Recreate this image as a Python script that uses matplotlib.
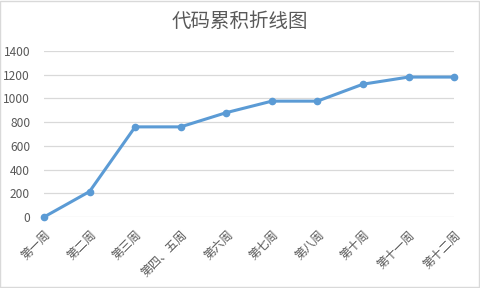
import matplotlib
matplotlib.use("Agg")
from matplotlib import pyplot as plt
from matplotlib.patches import Rectangle

plt.rcParams['font.family'] = ['Noto Sans CJK SC', 'DejaVu Sans']

weeks = ['第一周', '第二周', '第三周', '第四、五周', '第六周',
         '第七周', '第八周', '第十周', '第十一周', '第十二周']
lines_total = [0, 215, 760, 760, 880, 977, 977, 1120, 1180, 1180]
y_ticks = [0, 200, 400, 600, 800, 1000, 1200, 1400]

text_col = '#595959'
grid_col = '#d9d9d9'

fig = plt.figure(figsize=(4.8, 2.88), dpi=100)
ax = fig.add_axes([0.0917, 0.2465, 0.8543, 0.5765])

x = list(range(len(weeks)))
ax.plot(x, lines_total, color='#5b9bd5', linewidth=2.2, marker='o',
        markersize=4.5, solid_capstyle='round', zorder=3, clip_on=False)

ax.set_xlim(0, len(weeks) - 1)
ax.set_ylim(0, 1400)
ax.set_yticks(y_ticks)
ax.set_yticklabels([str(v) for v in y_ticks])
ax.set_xticks(x)
ax.set_xticklabels(weeks, rotation=45, ha='right', rotation_mode='anchor')

ax.grid(axis='y', color=grid_col, linewidth=0.9)
ax.set_axisbelow(True)
for s in ax.spines.values():
    s.set_visible(False)
ax.tick_params(axis='both', length=0, colors=text_col, labelsize=8.6)
ax.tick_params(axis='y', pad=10)
ax.tick_params(axis='x', pad=8)

fig.text(0.5, 0.925, '代码累积折线图', ha='center', va='center',
         fontsize=14, color=text_col)

# light frame round the chart
fig.patches.append(Rectangle((0.001, 0.002), 0.996, 0.994, transform=fig.transFigure,
                             fill=False, edgecolor=grid_col, linewidth=1))

fig.savefig('out.png', dpi=100)
